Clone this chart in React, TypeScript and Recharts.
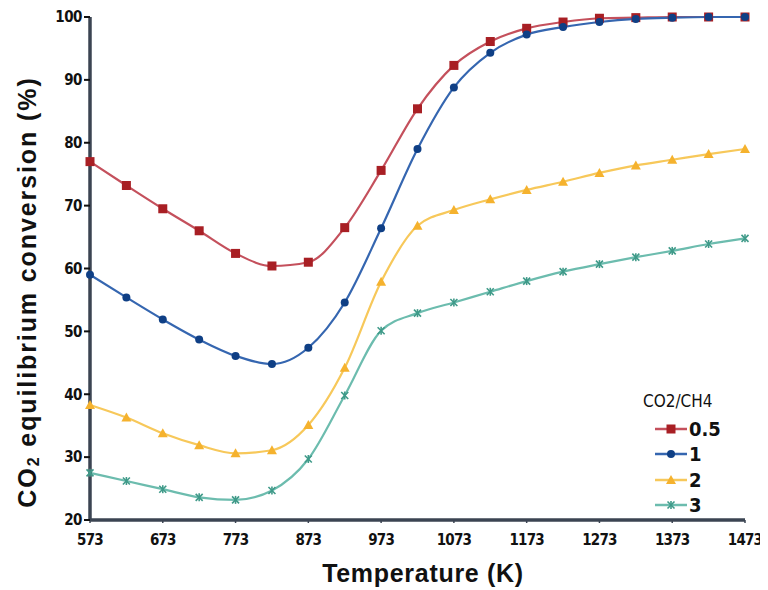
import React from "react";
import { LineChart, Line, XAxis, YAxis } from "recharts";

const temperatures = [573, 623, 673, 723, 773, 823, 873, 923, 973, 1023, 1073, 1123, 1173, 1223, 1273, 1323, 1373, 1423, 1473];
const ratio05 = [77.0, 73.2, 69.5, 66.0, 62.4, 60.4, 61.0, 66.5, 75.6, 85.4, 92.3, 96.1, 98.2, 99.2, 99.8, 99.9, 100, 100, 100];
const ratio1 = [59.0, 55.4, 51.9, 48.7, 46.1, 44.8, 47.4, 54.6, 66.4, 79.0, 88.8, 94.3, 97.2, 98.4, 99.2, 99.7, 99.9, 100, 100];
const ratio2 = [38.3, 36.3, 33.8, 31.9, 30.6, 31.1, 35.1, 44.2, 57.9, 66.8, 69.3, 71.0, 72.5, 73.8, 75.2, 76.4, 77.3, 78.2, 79.0];
const ratio3 = [27.5, 26.2, 24.9, 23.6, 23.2, 24.7, 29.7, 39.8, 50.1, 52.9, 54.6, 56.3, 58.0, 59.5, 60.7, 61.8, 62.8, 63.9, 64.8];
const xTicks = [573, 673, 773, 873, 973, 1073, 1173, 1273, 1373, 1473];
const yTicks = [20, 30, 40, 50, 60, 70, 80, 90, 100];
const seriesNames = ["0.5", "1", "2", "3"];

const data = temperatures.map((t, i) => ({
  t,
  r05: ratio05[i],
  r1: ratio1[i],
  r2: ratio2[i],
  r3: ratio3[i],
}));

const FONT = "'Liberation Sans Narrow', 'DejaVu Sans Condensed', 'Arial Narrow', sans-serif";
const LABEL_FONT = "'Liberation Sans', Arial, sans-serif";

const colors = {
  r05: { line: "#c4505c", mark: "#a81f24" },
  r1: { line: "#3566b0", mark: "#0f3f85" },
  r2: { line: "#f7c85a", mark: "#f5b22e" },
  r3: { line: "#6cbcae", mark: "#3f9a89" },
};

const Square = (props: any) => {
  const { cx, cy } = props;
  if (cx == null || cy == null) return null;
  return <rect x={cx - 4.5} y={cy - 4.5} width={9} height={9} fill={colors.r05.mark} />;
};
const Circle = (props: any) => {
  const { cx, cy } = props;
  if (cx == null || cy == null) return null;
  return <circle cx={cx} cy={cy} r={4} fill={colors.r1.mark} />;
};
const Triangle = (props: any) => {
  const { cx, cy } = props;
  if (cx == null || cy == null) return null;
  return <polygon points={`${cx},${cy - 5} ${cx - 5},${cy + 4} ${cx + 5},${cy + 4}`} fill={colors.r2.mark} />;
};
const Star = (props: any) => {
  const { cx, cy } = props;
  if (cx == null || cy == null) return null;
  const c = colors.r3.mark;
  return (
    <g stroke={c} strokeWidth={1.6}>
      <line x1={cx - 3.5} y1={cy - 3.5} x2={cx + 3.5} y2={cy + 3.5} />
      <line x1={cx - 3.5} y1={cy + 3.5} x2={cx + 3.5} y2={cy - 3.5} />
      <line x1={cx} y1={cy - 4} x2={cx} y2={cy + 4} />
    </g>
  );
};

const legendItems = [
  { name: seriesNames[0], color: colors.r05, Shape: Square },
  { name: seriesNames[1], color: colors.r1, Shape: Circle },
  { name: seriesNames[2], color: colors.r2, Shape: Triangle },
  { name: seriesNames[3], color: colors.r3, Shape: Star },
];

const LegendBox = () => (
  <div style={{ position: "absolute", left: 635, top: 385, fontFamily: FONT, color: "#111", lineHeight: 1 }}>
    <div style={{ fontSize: 17, height: 23, marginLeft: 0 }}>CO2/CH4</div>
    {legendItems.map((it) => (
      <div key={it.name} style={{ display: "flex", alignItems: "center", height: 25.5, marginLeft: 11 }}>
        <svg width={34} height={14} style={{ display: "block" }}>
          <line x1={1} y1={7} x2={33} y2={7} stroke={it.color.line} strokeWidth={2.5} />
          <it.Shape cx={17} cy={7} />
        </svg>
        <span style={{ fontSize: 20, fontWeight: "bold", marginLeft: 1 }}>{it.name}</span>
      </div>
    ))}
  </div>
);

export default function App() {
  return (
    <div style={{ width: 760, height: 582, position: "relative", background: "#fff" }}>
      <LineChart width={760} height={582} data={data} margin={{ top: 9, right: 23, bottom: 30, left: 32 }}>
        <XAxis
          dataKey="t"
          type="number"
          domain={[573, 1473]}
          ticks={xTicks}
          interval={0}
          height={40}
          stroke="#3b4452"
          strokeWidth={3.5}
          tickSize={3}
          tick={{ fill: "#111", fontSize: 15, fontWeight: "bold", fontFamily: FONT, dy: 9, letterSpacing: -0.8 }}
          tickLine={{ stroke: "#3b4452", strokeWidth: 1.5 }}
        />
        <YAxis
          type="number"
          domain={[20, 100]}
          ticks={yTicks}
          interval={0}
          width={50}
          stroke="#3b4452"
          strokeWidth={3.5}
          tickSize={6}
          tick={{ fill: "#111", fontSize: 15, fontWeight: "bold", fontFamily: FONT, letterSpacing: -0.5 }}
          tickLine={{ stroke: "#111", strokeWidth: 2 }}
        />
        <XAxis xAxisId="top" orientation="top" dataKey="t" type="number" domain={[573, 1473]} tick={false} tickLine={false} height={0} stroke="#222" strokeWidth={2.5} />
        <YAxis yAxisId="right" orientation="right" domain={[20, 100]} tick={false} tickLine={false} width={0} stroke="#4a5361" strokeWidth={4.5} />
        <Line dataKey="r05" type="monotone" stroke={colors.r05.line} strokeWidth={2.2} dot={<Square />} activeDot={false} isAnimationActive={false} name={seriesNames[0]} />
        <Line dataKey="r1" type="monotone" stroke={colors.r1.line} strokeWidth={2.2} dot={<Circle />} activeDot={false} isAnimationActive={false} name={seriesNames[1]} />
        <Line dataKey="r2" type="monotone" stroke={colors.r2.line} strokeWidth={2.2} dot={<Triangle />} activeDot={false} isAnimationActive={false} name={seriesNames[2]} />
        <Line dataKey="r3" type="monotone" stroke={colors.r3.line} strokeWidth={2.2} dot={<Star />} activeDot={false} isAnimationActive={false} name={seriesNames[3]} />
        <text
          x={19}
          y={284}
          transform="rotate(-90 19 284)"
          textAnchor="middle"
          dominantBaseline="central"
          style={{ fontFamily: LABEL_FONT, fontSize: 25, fontWeight: "bold", fill: "#111", letterSpacing: 1.9 }}
        >
          CO<tspan fontSize={16} dy={6}>2</tspan><tspan dy={-6}> equilibrium conversion (%)</tspan>
        </text>
        <text
          x={415}
          y={565}
          textAnchor="middle"
          dominantBaseline="central"
          style={{ fontFamily: LABEL_FONT, fontSize: 25, fontWeight: "bold", fill: "#111", letterSpacing: 0.7 }}
        >
          Temperature (K)
        </text>
      </LineChart>
      <LegendBox />
    </div>
  );
}
